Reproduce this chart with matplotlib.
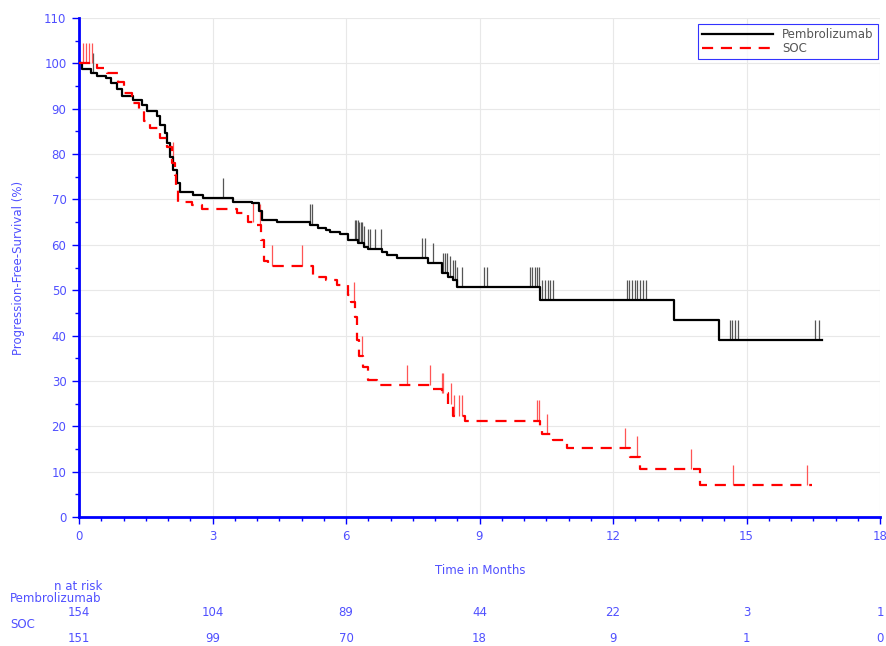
import numpy as np
import matplotlib
matplotlib.use("Agg")
import matplotlib.pyplot as plt
from matplotlib.ticker import MultipleLocator
from matplotlib.lines import Line2D

# Kaplan-Meier step points (months, % progression-free)
PEMBRO_T = [0, 0.06, 0.28, 0.40, 0.60, 0.73, 0.85, 0.96, 1.21, 1.41, 1.52, 1.75,
            1.82, 1.93, 1.98, 2.04, 2.11, 2.20, 2.27, 2.56, 2.79, 3.46, 3.88,
            4.05, 4.12, 4.45, 5.19, 5.37, 5.54, 5.64, 5.87, 6.05, 6.28, 6.40,
            6.50, 6.81, 6.92, 7.14, 7.84, 8.15, 8.29, 8.40, 8.49, 10.36, 13.37,
            14.39, 16.69]
PEMBRO_S = [100, 98.8, 97.8, 97.3, 96.7, 95.6, 94.4, 92.7, 91.9, 90.8, 89.4, 88.3,
            86.4, 84.7, 82.4, 79.4, 76.5, 73.6, 71.7, 71.0, 70.3, 69.5, 69.2,
            67.5, 65.5, 65.0, 64.4, 63.8, 63.3, 62.9, 62.4, 61.0, 60.5, 59.6,
            59.0, 58.5, 57.8, 57.0, 55.9, 53.7, 53.0, 52.2, 50.6, 47.8, 43.4,
            39.0, 39.0]

SOC_T = [0, 0.40, 0.62, 0.88, 1.00, 1.19, 1.35, 1.46, 1.60, 1.82, 1.98, 2.10,
         2.15, 2.18, 2.22, 2.54, 2.76, 3.56, 3.80, 3.98, 4.10, 4.15, 4.25, 5.25,
         5.55, 5.80, 6.05, 6.12, 6.20, 6.25, 6.30, 6.38, 6.50, 6.69, 7.89, 8.15,
         8.30, 8.41, 8.67, 10.36, 10.40, 10.66, 10.96, 12.38, 12.61, 13.96, 16.47]
SOC_S = [100, 99.0, 97.8, 96.0, 93.5, 91.2, 89.5, 87.3, 85.8, 83.5, 81.5, 78.1,
         75.5, 72.0, 69.5, 68.8, 67.9, 67.0, 65.0, 64.4, 61.0, 56.5, 55.4, 53.0,
         52.2, 51.1, 49.0, 47.3, 44.0, 39.0, 35.5, 33.0, 30.2, 29.1, 28.2, 27.3,
         25.0, 22.3, 21.2, 19.9, 18.3, 16.9, 15.2, 13.3, 10.5, 7.05, 7.05]

# censoring times (months)
PEMBRO_CENSOR = [0.31, 3.23, 5.19, 5.24, 6.20, 6.23, 6.27, 6.30, 6.33, 6.36, 6.40,
                 6.50, 6.55, 6.65, 6.78, 7.70, 7.78, 7.96, 8.17, 8.22, 8.28, 8.34,
                 8.40, 8.45, 8.50, 8.60, 9.09, 9.16, 10.13, 10.19, 10.25, 10.30,
                 10.34, 10.40, 10.47, 10.54, 10.58, 10.65, 12.31, 12.37, 12.42,
                 12.49, 12.55, 12.61, 12.68, 12.74, 14.63, 14.68, 14.74, 14.82,
                 16.54, 16.64]
SOC_CENSOR = [0.08, 0.16, 0.23, 0.29, 2.12, 3.90, 4.07, 4.33, 5.00, 6.17, 6.35,
              7.36, 7.88, 8.15, 8.19, 8.37, 8.43, 8.55, 8.61, 10.29, 10.34, 10.52,
              12.27, 12.53, 13.75, 14.69, 16.37]

RISK_MONTHS = [0, 3, 6, 9, 12, 15, 18]
RISK_PEMBRO = [154, 104, 89, 44, 22, 3, 1]
RISK_SOC = [151, 99, 70, 18, 9, 1, 0]

BLUE = "#0000ff"
LABEL_BLUE = "#5050ff"
FS = 8.5


def value_at(times, surv, t):
    i = np.searchsorted(times, t, side="right") - 1
    return surv[max(i, 0)]


fig = plt.figure(figsize=(8.86, 6.46), dpi=100)
ax = fig.add_axes([79 / 886, 1 - 517 / 646, 801 / 886, 499 / 646])

ax.step(PEMBRO_T, PEMBRO_S, where="post", color="black", lw=1.6, zorder=3)
ax.step(SOC_T, SOC_S, where="post", color="#ff0000", lw=1.6,
        linestyle=(0, (5, 3.5)), zorder=3)

tick_h = 4.5
p_base = [value_at(PEMBRO_T, PEMBRO_S, t) for t in PEMBRO_CENSOR]
ax.vlines(PEMBRO_CENSOR, p_base, np.array(p_base) + tick_h,
          color="#555555", lw=0.9, zorder=2)
s_base = [value_at(SOC_T, SOC_S, t) for t in SOC_CENSOR]
ax.vlines(SOC_CENSOR, s_base, np.array(s_base) + tick_h,
          color="#ff5555", lw=0.9, zorder=2)

ax.set_xlim(0, 18)
ax.set_ylim(0, 110)
ax.xaxis.set_major_locator(MultipleLocator(3))
ax.xaxis.set_minor_locator(MultipleLocator(0.5))
ax.yaxis.set_major_locator(MultipleLocator(10))
ax.yaxis.set_minor_locator(MultipleLocator(5))
ax.grid(True, which="major", color="#e8e8e8", lw=0.8, zorder=0)
ax.set_axisbelow(True)

for side in ["top", "right"]:
    ax.spines[side].set_visible(False)
for side in ["left", "bottom"]:
    ax.spines[side].set_color(BLUE)
    ax.spines[side].set_linewidth(2)

ax.tick_params(which="major", direction="out", length=5, width=1,
               color=BLUE, labelcolor=LABEL_BLUE, labelsize=FS, pad=4)
ax.tick_params(which="minor", direction="out", length=3, width=1, color=BLUE)

ax.set_ylabel("Progression-Free-Survival (%)", color=LABEL_BLUE, fontsize=FS,
              labelpad=14)

handles = [Line2D([], [], color="black", lw=1.6),
           Line2D([], [], color="#ff0000", lw=1.6, linestyle=(0, (5, 3.5)))]
leg = ax.legend(handles, ["Pembrolizumab", "SOC"], loc="upper right",
                bbox_to_anchor=(0.997, 0.988), fontsize=FS, frameon=True,
                fancybox=False, handlelength=6, labelspacing=0.1,
                borderpad=0.35, handletextpad=0.8, borderaxespad=0)
leg.get_frame().set_edgecolor(BLUE)
leg.get_frame().set_linewidth(0.8)
for txt in leg.get_texts():
    txt.set_color("#555555")

fig.text(480 / 886, 1 - 570 / 646, "Time in Months", color=LABEL_BLUE,
         fontsize=FS, ha="center", va="center")

# number-at-risk table under the axis
trans = matplotlib.transforms.blended_transform_factory(ax.transData, fig.transFigure)
fig.text(78 / 886, 1 - 586 / 646, "n at risk", color=LABEL_BLUE, fontsize=FS,
         ha="center", va="center")
fig.text(10 / 886, 1 - 599 / 646, "Pembrolizumab", color=LABEL_BLUE, fontsize=FS,
         ha="left", va="center")
fig.text(10 / 886, 1 - 625 / 646, "SOC", color=LABEL_BLUE, fontsize=FS,
         ha="left", va="center")
for m, a, b in zip(RISK_MONTHS, RISK_PEMBRO, RISK_SOC):
    ax.text(m, 1 - 612 / 646, str(a), transform=trans, color=LABEL_BLUE,
            fontsize=FS, ha="center", va="center", clip_on=False)
    ax.text(m, 1 - 639 / 646, str(b), transform=trans, color=LABEL_BLUE,
            fontsize=FS, ha="center", va="center", clip_on=False)

fig.savefig("out.png", dpi=100)
